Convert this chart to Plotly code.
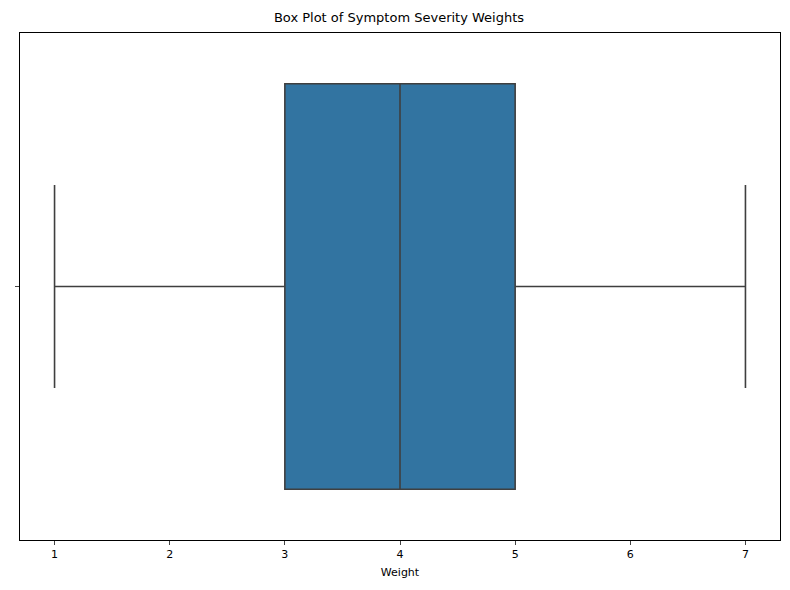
import plotly.graph_objects as go

# summary stats of the symptom severity weights
q1 = [3]
median = [4]
q3 = [5]
lower_fence = [1]
upper_fence = [7]
x_ticks = [1, 2, 3, 4, 5, 6, 7]

fig = go.Figure()
fig.add_trace(go.Box(
    y=[0], q1=q1, median=median, q3=q3,
    lowerfence=lower_fence, upperfence=upper_fence,
    orientation="h", width=0.8, whiskerwidth=0.5,
    fillcolor="#3274a1", line=dict(color="#3f3f3f", width=1.6),
    boxpoints=False, showlegend=False, hoverinfo="x",
))

fig.update_layout(
    width=782, height=582,
    margin=dict(l=8, r=10, t=25, b=50),
    plot_bgcolor="white", paper_bgcolor="white",
    font=dict(family="DejaVu Sans", size=11, color="black"),
    title=dict(text="Box Plot of Symptom Severity Weights", x=0.5, xanchor="center",
               y=0.983, yanchor="middle", font=dict(size=13)),
    xaxis=dict(range=[0.7, 7.3], tickvals=x_ticks, ticks="outside", ticklen=4,
               showgrid=False, zeroline=False, showline=True, linecolor="black",
               mirror=True, title=dict(text="Weight", font=dict(size=11), standoff=8)),
    yaxis=dict(range=[-0.5, 0.5], tickvals=[0], ticktext=[""], ticks="outside", ticklen=4,
               showgrid=False, zeroline=False, showline=True, linecolor="black",
               mirror=True),
)

fig.write_html("out.html")
